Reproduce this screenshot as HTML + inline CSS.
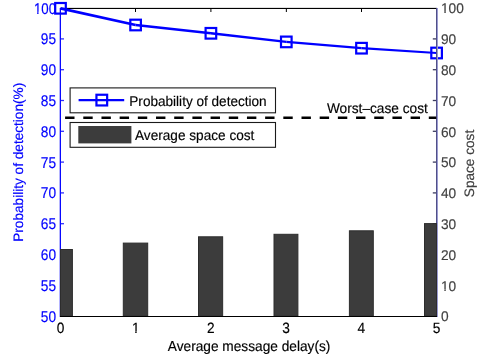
<!DOCTYPE html>
<html><head><meta charset="utf-8"><title>chart</title>
<style>
html,body{margin:0;padding:0;background:#fff;}
svg{display:block;will-change:transform;}
text{font-family:"Liberation Sans",sans-serif;font-size:13.7px;text-rendering:geometricPrecision;}
.bl{fill:#0000ff;stroke:#0000ff;stroke-width:0.15px;}
.gr{fill:#404040;stroke:#404040;stroke-width:0.15px;}
.bk{fill:#000;stroke:#000;stroke-width:0.15px;}
</style></head><body>
<svg width="485" height="354" viewBox="0 0 485 354">
<rect x="0" y="0" width="485" height="354" fill="#fff"/>

<defs>
<clipPath id="c1m" clipPathUnits="userSpaceOnUse"><path clip-rule="evenodd" d="M-60,-40H60V20H-60Z M-4.010,-1.573H-0.465V3H-4.010Z M0.946,-1.573H3.541V3H0.946Z"/></clipPath>
<clipPath id="c1e" clipPathUnits="userSpaceOnUse"><path clip-rule="evenodd" d="M-60,-40H60V20H-60Z M-23.058,-1.573H-19.513V3H-23.058Z M-18.102,-1.573H-15.508V3H-18.102Z"/></clipPath>
<clipPath id="c1s" clipPathUnits="userSpaceOnUse"><path clip-rule="evenodd" d="M-60,-40H60V20H-60Z M-0.200,-1.573H3.345V3H-0.200Z M4.756,-1.573H7.350V3H4.756Z"/></clipPath>
</defs>
<rect x="60" y="8" width="377" height="1" fill="#000"/>
<rect x="60" y="7" width="377" height="1" fill="#000" opacity="0.12"/>
<rect x="135.00" y="9" width="1" height="3" fill="#000"/>
<rect x="210.40" y="9" width="1" height="3" fill="#000"/>
<rect x="285.85" y="9" width="1" height="3" fill="#000"/>
<rect x="361.00" y="9" width="1" height="3" fill="#000"/>
<rect x="436" y="8" width="1" height="309" fill="#505088"/>
<rect x="437" y="8" width="1" height="309" fill="#9a9ad0"/>
<rect x="432.8" y="284.65" width="3.2" height="1.3" fill="#3c3c60"/>
<rect x="432.8" y="253.85" width="3.2" height="1.3" fill="#3c3c60"/>
<rect x="432.8" y="223.05" width="3.2" height="1.3" fill="#3c3c60"/>
<rect x="432.8" y="192.25" width="3.2" height="1.3" fill="#3c3c60"/>
<rect x="432.8" y="161.45" width="3.2" height="1.3" fill="#3c3c60"/>
<rect x="432.8" y="130.65" width="3.2" height="1.3" fill="#3c3c60"/>
<rect x="432.8" y="99.85" width="3.2" height="1.3" fill="#3c3c60"/>
<rect x="432.8" y="69.05" width="3.2" height="1.3" fill="#3c3c60"/>
<rect x="432.8" y="38.25" width="3.2" height="1.3" fill="#3c3c60"/>
<rect x="59" y="8" width="1" height="309" fill="#b4b4ff"/>
<rect x="60" y="8" width="1" height="309" fill="#0808ff"/>
<rect x="61" y="284.65" width="3" height="1.3" fill="#3030ff"/>
<rect x="61" y="253.85" width="3" height="1.3" fill="#3030ff"/>
<rect x="61" y="223.05" width="3" height="1.3" fill="#3030ff"/>
<rect x="61" y="192.25" width="3" height="1.3" fill="#3030ff"/>
<rect x="61" y="161.45" width="3" height="1.3" fill="#3030ff"/>
<rect x="61" y="130.65" width="3" height="1.3" fill="#3030ff"/>
<rect x="61" y="99.85" width="3" height="1.3" fill="#3030ff"/>
<rect x="61" y="69.05" width="3" height="1.3" fill="#3030ff"/>
<rect x="61" y="38.25" width="3" height="1.3" fill="#3030ff"/>
<rect x="60.50" y="249.50" width="11.90" height="66.70" fill="#3c3c3c" stroke="#2d2d2d" stroke-width="1"/>
<rect x="123.30" y="243.10" width="24.40" height="73.10" fill="#3c3c3c" stroke="#2d2d2d" stroke-width="1"/>
<rect x="198.50" y="236.80" width="24.15" height="79.40" fill="#3c3c3c" stroke="#2d2d2d" stroke-width="1"/>
<rect x="274.00" y="234.30" width="23.90" height="81.90" fill="#3c3c3c" stroke="#2d2d2d" stroke-width="1"/>
<rect x="349.40" y="230.80" width="23.90" height="85.40" fill="#3c3c3c" stroke="#2d2d2d" stroke-width="1"/>
<rect x="424.50" y="223.60" width="12.00" height="92.60" fill="#3c3c3c" stroke="#2d2d2d" stroke-width="1"/>
<rect x="60" y="316" width="377" height="1" fill="#000"/>
<line x1="65.1" y1="117.7" x2="436.2" y2="117.7" stroke="#000" stroke-width="2.6" stroke-dasharray="9.4 8.785"/>
<line x1="60.5" y1="8.3" x2="135.6" y2="25.0" stroke="#0000ff" stroke-width="2.8"/>
<line x1="135.6" y1="25.0" x2="210.9" y2="33.3" stroke="#0000ff" stroke-width="2.5"/>
<line x1="210.9" y1="33.3" x2="286.3" y2="41.9" stroke="#0000ff" stroke-width="2.4"/>
<line x1="286.3" y1="41.9" x2="361.5" y2="48.2" stroke="#0000ff" stroke-width="2.3"/>
<line x1="361.5" y1="48.2" x2="436.6" y2="53.0" stroke="#0000ff" stroke-width="2.2"/>
<rect x="55.20" y="3.00" width="10.6" height="10.6" fill="none" stroke="#0000ff" stroke-width="2.2"/>
<rect x="130.30" y="19.70" width="10.6" height="10.6" fill="none" stroke="#0000ff" stroke-width="2.2"/>
<rect x="205.60" y="28.00" width="10.6" height="10.6" fill="none" stroke="#0000ff" stroke-width="2.2"/>
<rect x="281.00" y="36.60" width="10.6" height="10.6" fill="none" stroke="#0000ff" stroke-width="2.2"/>
<rect x="356.20" y="42.90" width="10.6" height="10.6" fill="none" stroke="#0000ff" stroke-width="2.2"/>
<rect x="431.30" y="47.70" width="10.6" height="10.6" fill="none" stroke="#0000ff" stroke-width="2.2"/>
<rect x="436" y="8" width="1" height="70" fill="#505088"/>
<rect x="437" y="8" width="1" height="70" fill="#9a9ad0"/>
<rect x="70.1" y="87.9" width="205.4" height="24.9" fill="#fff" stroke="#1a1a1a" stroke-width="1.1"/>
<rect x="70.1" y="122.5" width="205.4" height="24.8" fill="#fff" stroke="#1a1a1a" stroke-width="1.1"/>
<line x1="78.6" y1="100.05" x2="124.2" y2="100.05" stroke="#0000ff" stroke-width="2.3"/>
<rect x="96.45" y="94.75" width="10.7" height="10.7" fill="none" stroke="#0000ff" stroke-width="2.2"/>
<rect x="78.3" y="126" width="53.1" height="17.4" fill="#3c3c3c"/>
<text class="bk" transform="translate(129.30,105.50) scale(0.992,1.030)">Probability of detection</text>
<text class="bk" transform="translate(135.00,140.00) scale(0.995,1.030)">Average space cost</text>
<text class="bk" transform="translate(326.90,113.40) scale(1.000,1.030)">Worst–case cost</text>
<text class="bl" text-anchor="end" transform="translate(56.10,321.50) scale(1.000,1.130)">50</text>
<text class="bl" text-anchor="end" transform="translate(56.10,290.70) scale(1.000,1.130)">55</text>
<text class="bl" text-anchor="end" transform="translate(56.10,259.90) scale(1.000,1.130)">60</text>
<text class="bl" text-anchor="end" transform="translate(56.10,229.10) scale(1.000,1.130)">65</text>
<text class="bl" text-anchor="end" transform="translate(56.10,198.30) scale(1.000,1.130)">70</text>
<text class="bl" text-anchor="end" transform="translate(56.10,167.50) scale(1.000,1.130)">75</text>
<text class="bl" text-anchor="end" transform="translate(56.10,136.70) scale(1.000,1.130)">80</text>
<text class="bl" text-anchor="end" transform="translate(56.10,105.90) scale(1.000,1.130)">85</text>
<text class="bl" text-anchor="end" transform="translate(56.10,75.10) scale(1.000,1.130)">90</text>
<text class="bl" text-anchor="end" transform="translate(56.10,44.30) scale(1.000,1.130)">95</text>
<text class="bl" text-anchor="end" clip-path="url(#c1e)" transform="translate(56.10,13.50) scale(0.970,1.130)">100</text>
<text class="gr" transform="translate(441.00,321.40) scale(1.000,1.030)">0</text>
<text class="gr" clip-path="url(#c1s)" transform="translate(441.00,290.60) scale(1.000,1.030)">10</text>
<text class="gr" transform="translate(441.00,259.80) scale(1.000,1.030)">20</text>
<text class="gr" transform="translate(441.00,229.00) scale(1.000,1.030)">30</text>
<text class="gr" transform="translate(441.00,198.20) scale(1.000,1.030)">40</text>
<text class="gr" transform="translate(441.00,167.40) scale(1.000,1.030)">50</text>
<text class="gr" transform="translate(441.00,136.60) scale(1.000,1.030)">60</text>
<text class="gr" transform="translate(441.00,105.80) scale(1.000,1.030)">70</text>
<text class="gr" transform="translate(441.00,75.00) scale(1.000,1.030)">80</text>
<text class="gr" transform="translate(441.00,44.20) scale(1.000,1.030)">90</text>
<text class="gr" clip-path="url(#c1s)" transform="translate(441.00,13.40) scale(1.000,1.030)">100</text>
<text class="bk" text-anchor="middle" transform="translate(60.50,332.80) scale(1.000,1.090)">0</text>
<text class="bk" text-anchor="middle" clip-path="url(#c1m)" transform="translate(135.70,332.80) scale(1.000,1.090)">1</text>
<text class="bk" text-anchor="middle" transform="translate(210.90,332.80) scale(1.000,1.090)">2</text>
<text class="bk" text-anchor="middle" transform="translate(286.10,332.80) scale(1.000,1.090)">3</text>
<text class="bk" text-anchor="middle" transform="translate(361.30,332.80) scale(1.000,1.090)">4</text>
<text class="bk" text-anchor="middle" transform="translate(436.50,332.80) scale(1.000,1.090)">5</text>
<text class="bk" text-anchor="middle" transform="translate(249.10,350.50) scale(1.000,1.050)">Average message delay(s)</text>
<text class="bl" text-anchor="middle" transform="translate(23.30,162.30) rotate(-90) scale(0.995,1.000)">Probability of detection(%)</text>
<text class="gr" text-anchor="middle" transform="translate(473.60,163.50) rotate(-90) scale(0.995,1.000)">Space cost</text>
</svg></body></html>
